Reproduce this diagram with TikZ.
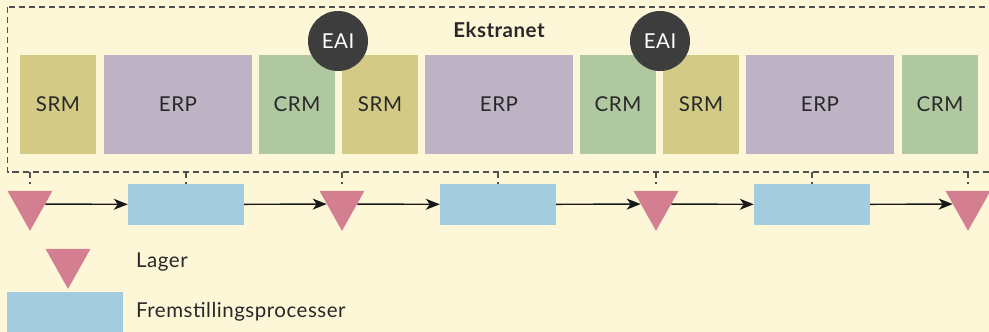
\documentclass[tikz,border=0pt]{standalone}
\usepackage{fontspec}
\setmainfont{Lato}[LetterSpace=2.5]
\usetikzlibrary{shapes.geometric,arrows.meta}
\definecolor{bg}{RGB}{253,247,216}
\definecolor{srmc}{RGB}{211,203,133}
\definecolor{erpc}{RGB}{190,180,198}
\definecolor{crmc}{RGB}{176,200,160}
\definecolor{eaic}{RGB}{61,61,61}
\definecolor{lagc}{RGB}{212,126,146}
\definecolor{procc}{RGB}{163,204,223}
\definecolor{txt}{RGB}{40,40,40}
\definecolor{dashc}{RGB}{80,80,80}
\begin{document}
\begin{tikzpicture}[x=1pt,y=-1pt,
  box/.style={minimum height=99pt, inner sep=0pt, font=\fontsize{20.5}{24}\selectfont, text=txt},
  srm/.style={box, fill=srmc, minimum width=76pt},
  erp/.style={box, fill=erpc, minimum width=148pt},
  crm/.style={box, fill=crmc, minimum width=76pt},
  eai/.style={circle, fill=eaic, minimum size=60pt, inner sep=0pt, text=white, font=\fontsize{20.5}{24}\selectfont},
  lager/.style={isosceles triangle, isosceles triangle stretches, shape border rotate=-90, minimum width=45pt, minimum height=40pt, inner sep=0pt, fill=lagc},
  proc/.style={fill=procc, minimum width=116pt, minimum height=41pt, inner sep=0pt},
  flow/.style={-{Stealth[length=14pt,width=11pt,inset=4pt]}, line width=1.4pt, draw=black!90},
  link/.style={dash pattern=on 6pt off 4pt, line width=1.2pt, draw=dashc},
  lbl/.style={anchor=west, inner sep=0pt, font=\fontsize{20.5}{24}\selectfont, text=txt}
]
\fill[bg] (0,0) rectangle (989,332);
\useasboundingbox (0,0) rectangle (989,332);

% extranet frame
\draw[link] (7.5,7) rectangle (996,172);
\coordinate (extb) at (0,172);
\node[font=\fontsize{20.5}{24}\selectfont\bfseries, text=txt] (ekst) at (499,30) {Ekstranet};

% systems
\node[srm] (s1) at (58,104.5) {SRM};
\node[erp] (e1) at (178,104.5) {ERP};
\node[crm] (c1) at (297,104.5) {CRM};
\node[srm] (s2) at (380,104.5) {SRM};
\node[erp] (e2) at (499,104.5) {ERP};
\node[crm] (c2) at (618,104.5) {CRM};
\node[srm] (s3) at (701,104.5) {SRM};
\node[erp] (e3) at (820,104.5) {ERP};
\node[crm] (c3) at (940,104.5) {CRM};

\node[eai] (a1) at (338,41) {EAI};
\node[eai] (a2) at (660,41) {EAI};

% chain
\node[lager] (t1) at (30,204) {};
\node[proc]  (r1) at (186,204.5) {};
\node[lager] (t2) at (342,204) {};
\node[proc]  (r2) at (498,204.5) {};
\node[lager] (t3) at (656,204) {};
\node[proc]  (r3) at (812,204.5) {};
\node[lager] (t4) at (968,204) {};

\foreach \n in {t1,r1,t2,r2,t3,r3,t4}
  \draw[link] (\n.center |- extb) -- (\n.center |- r1.north);

\draw[flow] (t1) -- (r1);
\draw[flow] (r1) -- (t2);
\draw[flow] (t2) -- (r2);
\draw[flow] (r2) -- (t3);
\draw[flow] (t3) -- (r3);
\draw[flow] (r3) -- (t4);

% legend
\node[lager] (lt) at (68,262) {};
\node[lbl] (ll) at (136,262) {Lager};
\node[proc] (lr) at (65,312.5) {};
\node[lbl] (lf) at (136,312) {Fremstillingsprocesser};
\end{tikzpicture}
\end{document}
